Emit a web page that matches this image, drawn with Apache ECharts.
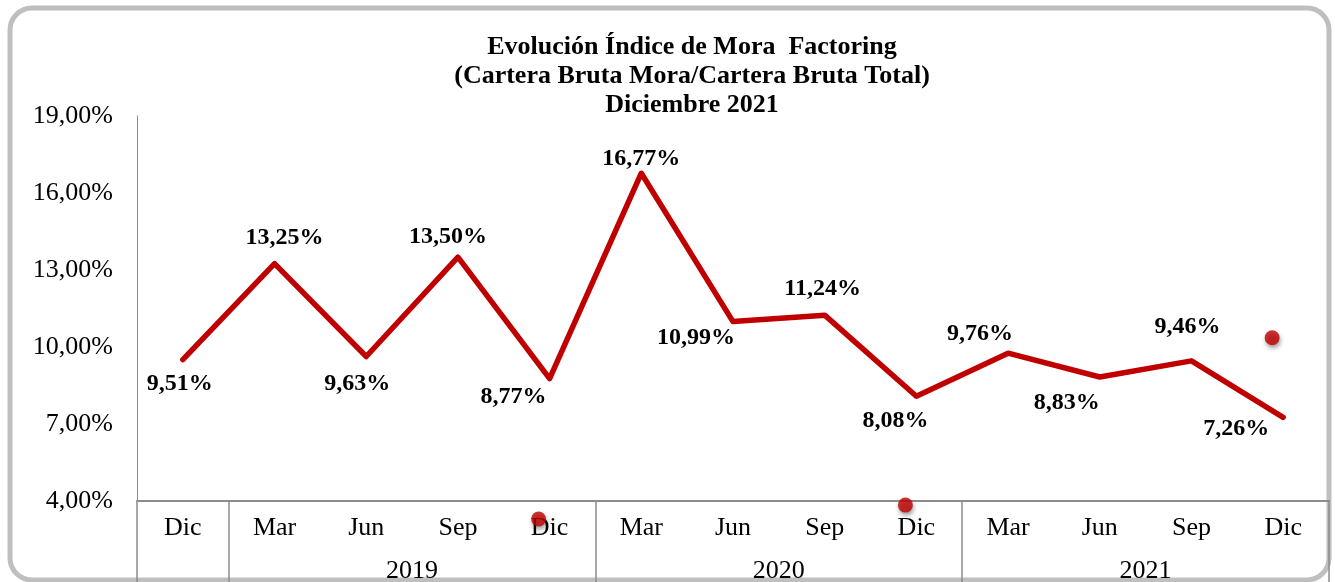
<!DOCTYPE html>
<html>
<head>
<meta charset="utf-8">
<title>Evolución Índice de Mora Factoring</title>
<script src="https://cdn.jsdelivr.net/npm/echarts@6/dist/echarts.min.js"></script>
<style>
  html, body { margin: 0; padding: 0; background: #fff; }
  #chart { width: 1335px; height: 582px; }
</style>
</head>
<body>
<div id="chart"></div>
<script>
// meses (trimestres) y años
const months = ['Dic', 'Mar', 'Jun', 'Sep', 'Dic', 'Mar', 'Jun', 'Sep', 'Dic', 'Mar', 'Jun', 'Sep', 'Dic'];
const years = ['2019', '2020', '2021'];
// índice de mora (%)
const moraValues = [9.51, 13.25, 9.63, 13.50, 8.77, 16.77, 10.99, 11.24, 8.08, 9.76, 8.83, 9.46, 7.26];
// marcadores sueltos del original
const dotPoints = [[4.38, 3.30], [8.38, 3.84], [12.38, 10.36]];
const yTicks = [4, 7, 10, 13, 16, 19];

// desplazamiento de cada etiqueta respecto a su punto
const labelOffsets = [
  [-3, 24], [10, -26], [-9, 27], [-10, -20], [-36, 18], [0, -14], [-37, 16],
  [-2, -26], [-21, 25], [-28, -19], [-33, 26], [-4, -34], [-47, 11]
];

const serif = "'Liberation Serif', 'Times New Roman', serif";
const red = '#C00000';
const axisGray = '#8c8c8c';

const fmtPct = (v) => v.toFixed(2).replace('.', ',') + '%';

const chart = echarts.init(document.getElementById('chart'));

const option = {
  backgroundColor: '#fff',
  animation: false,
  title: {
    text: 'Evolución Índice de Mora  Factoring\n(Cartera Bruta Mora/Cartera Bruta Total)\nDiciembre 2021',
    left: 687,
    top: 28,
    textAlign: 'center',
    textStyle: {
      fontFamily: serif,
      fontWeight: 'bold',
      fontSize: 26,
      lineHeight: 29,
      color: '#000'
    }
  },
  grid: {
    left: 137,
    right: 6,
    top: 116,
    bottom: 81,
    outerBoundsMode: 'none'
  },
  xAxis: [
    {
      type: 'category',
      data: months,
      boundaryGap: true,
      axisLine: { lineStyle: { color: axisGray, width: 2 } },
      axisTick: { interval: 0, length: 44, lineStyle: { color: axisGray, width: 1.5 } },
      axisLabel: {
        interval: 0,
        margin: 14,
        fontFamily: serif,
        fontSize: 26,
        color: '#000'
      }
    },
    {
      type: 'value',
      min: 0,
      max: 13,
      position: 'bottom',
      axisLine: { show: false },
      splitLine: { show: false },
      axisTick: {
        show: true,
        length: 90,
        customValues: [0, 1, 5, 9, 13],
        lineStyle: { color: axisGray, width: 1.5 }
      },
      axisLabel: {
        margin: 57,
        customValues: [3, 7, 11],
        formatter: (v) => years[Math.round((v - 3) / 4)],
        fontFamily: serif,
        fontSize: 26,
        color: '#000'
      }
    }
  ],
  yAxis: {
    type: 'value',
    min: 4,
    max: 19,
    axisLine: { show: true, lineStyle: { color: axisGray, width: 1 } },
    axisTick: { show: false },
    splitLine: { show: false },
    axisLabel: {
      customValues: yTicks,
      margin: 24,
      formatter: fmtPct,
      fontFamily: serif,
      fontSize: 26,
      color: '#000'
    }
  },
  graphic: [
    {
      type: 'rect',
      z: -1,
      shape: { x: 10, y: 8, width: 1319, height: 572, r: 22 },
      style: { fill: 'none', stroke: '#bfbfbf', lineWidth: 5 }
    }
  ],
  series: [
    {
      name: 'Índice de Mora',
      type: 'line',
      xAxisIndex: 0,
      data: moraValues.map((v, i) => ({
        value: v,
        label: { offset: labelOffsets[i] }
      })),
      symbol: 'circle',
      symbolSize: 0.1,
      showSymbol: true,
      itemStyle: { color: red },
      lineStyle: { color: red, width: 5.5, cap: 'round', join: 'round' },
      label: {
        show: true,
        position: 'inside',
        formatter: (p) => fmtPct(p.value),
        fontFamily: serif,
        fontWeight: 'bold',
        fontSize: 24,
        color: '#000'
      }
    },
    {
      name: 'puntos',
      type: 'scatter',
      xAxisIndex: 1,
      clip: false,
      data: dotPoints,
      symbolSize: 15,
      itemStyle: {
        color: red,
        shadowBlur: 4,
        shadowColor: 'rgba(0,0,0,0.45)',
        shadowOffsetX: 1,
        shadowOffsetY: 3
      }
    }
  ]
};

chart.setOption(option);
</script>
</body>
</html>
